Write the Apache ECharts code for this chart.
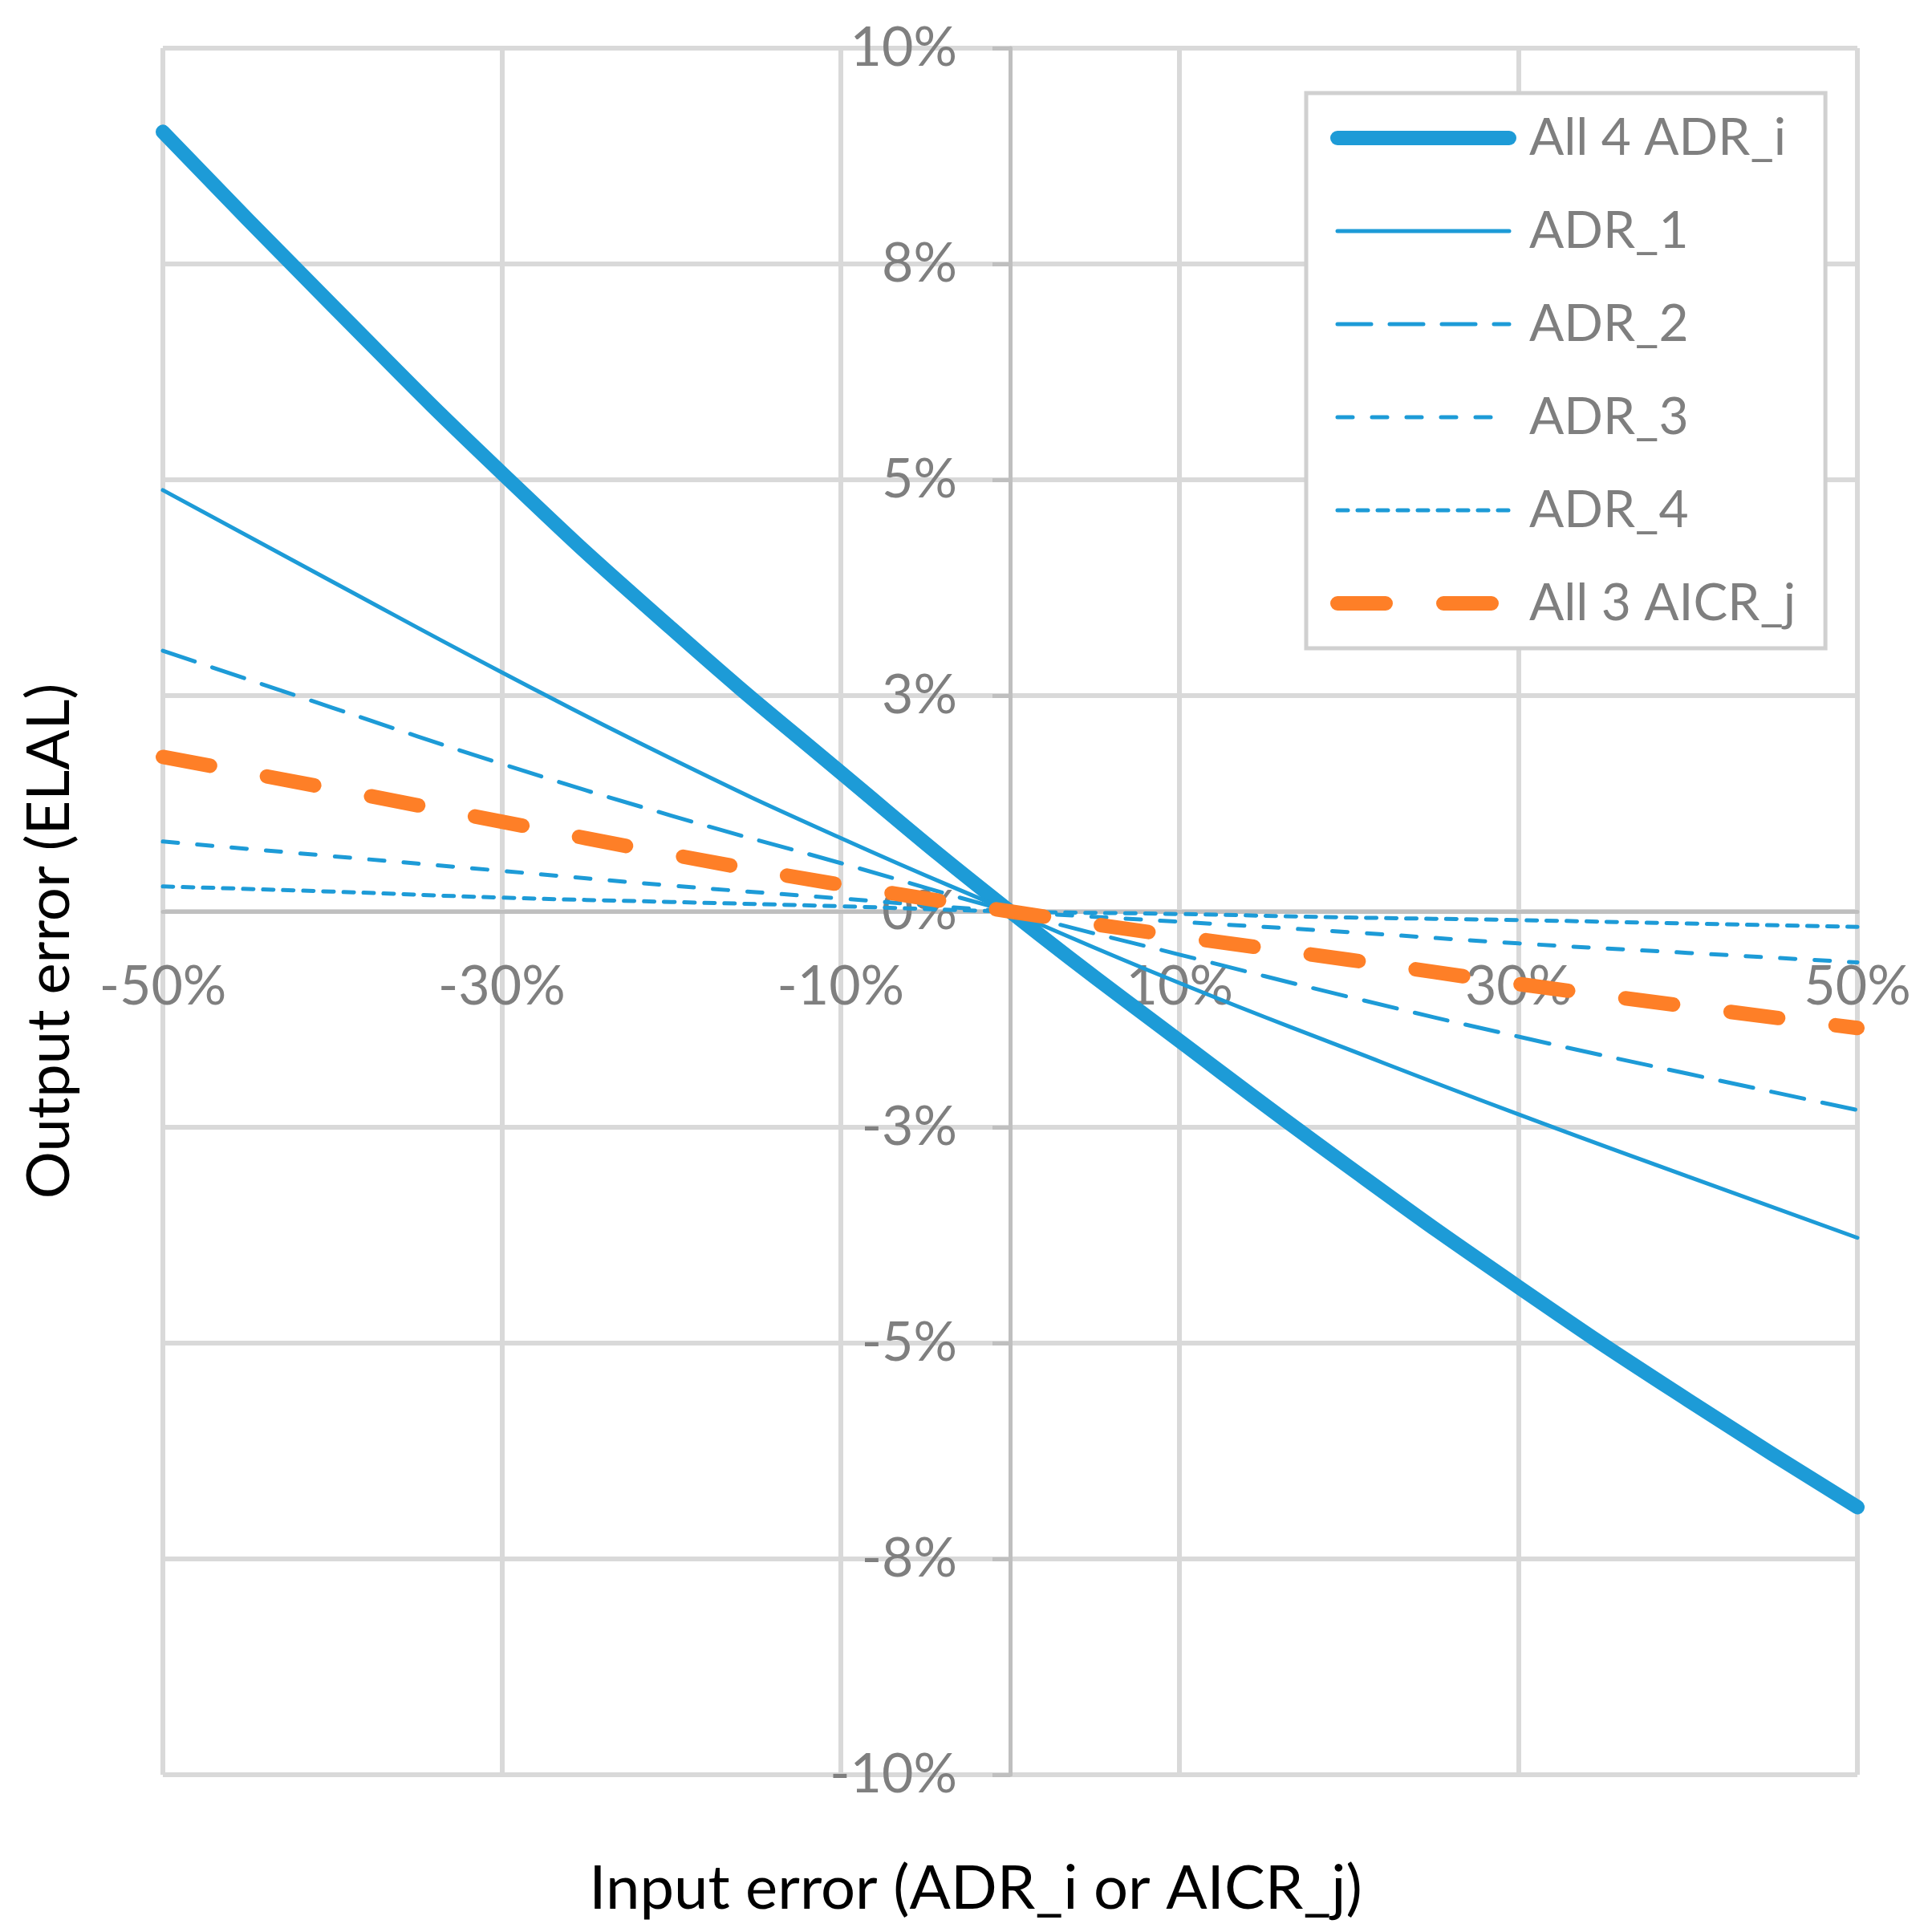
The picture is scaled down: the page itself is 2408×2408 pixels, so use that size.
<!DOCTYPE html>
<html>
	<head>
		<meta charset="utf-8" />
		<title>Output error vs input error</title>
		<script src="https://cdn.jsdelivr.net/npm/echarts@6/dist/echarts.min.js" type="text/javascript" charset="utf-8"></script>
	</head>
	<body style="margin: 0;background: #fff;">
		<div id="chart" style="width: 2408px;height: 2408px;"></div>
		<script type="text/javascript">
			// input error, in %
			var inputErr = [-50, -40, -30, -20, -10, 0, 10, 20, 30, 40, 50];
			// output error (ELAL), in %
			var all4Adr = [9.03, 7.02, 5.08, 3.28, 1.61, 0, -1.50, -2.96, -4.35, -5.66, -6.90];
			var adr1 = [4.88, 3.82, 2.77, 1.77, 0.85, 0, -0.83, -1.60, -2.35, -3.07, -3.78];
			var adr2 = [3.02, 2.36, 1.71, 1.11, 0.56, 0, -0.50, -0.99, -1.45, -1.88, -2.30];
			var adr3 = [0.81, 0.64, 0.47, 0.30, 0.15, 0, -0.12, -0.24, -0.37, -0.48, -0.59];
			var adr4 = [0.29, 0.23, 0.16, 0.11, 0.06, 0, -0.03, -0.07, -0.10, -0.14, -0.18];
			var all3Aicr = [1.79, 1.42, 1.04, 0.66, 0.31, 0, -0.29, -0.56, -0.84, -1.10, -1.35];

			var seriesNames = ['All 4 ADR_i', 'ADR_1', 'ADR_2', 'ADR_3', 'ADR_4', 'All 3 AICR_j'];
			var xTitle = 'Input error (ADR_i or AICR_j)';
			var yTitle = 'Output error (ELAL)';

			var blue = '#1d9bd7';
			var orange = '#fe7f27';
			var font = 'Lato';

			// plot box, the axes cross in its middle
			var gridLeft = 203, gridRight = 93, gridTop = 60, gridBottom = 196;
			var plotW = 2408 - gridLeft - gridRight;
			var plotH = 2408 - gridTop - gridBottom;

			function pairs(ys){
				var out = [];
				for ( var i = 0 ; i < ys.length ; i ++ ){
					out.push([inputErr[i], ys[i]]);
				}
				return out;
			}

			function line(name, ys, color, width, dash){
				return {
					name: name,
					type: 'line',
					data: pairs(ys),
					smooth: true,
					symbol: 'none',
					lineStyle: {color: color, width: width, type: dash, cap: 'round', join: 'round'},
					itemStyle: {color: color}
				};
			}

			var chart = echarts.init(document.getElementById("chart"));

			var option = {
				animation: false,
				backgroundColor: '#fff',
				grid: {left: gridLeft, right: gridRight, top: gridTop, bottom: gridBottom},
				xAxis: {
					type: 'value',
					min: -50,
					max: 50,
					interval: 20,
					position: 'bottom',
					offset: -plotH / 2,
					axisLine: {show: true, onZero: false, lineStyle: {color: '#bfbfbf', width: 5}},
					axisTick: {show: false},
					splitLine: {show: true, lineStyle: {color: '#d9d9d9', width: 6}},
					axisLabel: {
						formatter: function(v){ return v + '%'; },
						fontFamily: font, fontSize: 68, color: '#7f7f7f', margin: 60
					}
				},
				yAxis: {
					type: 'value',
					min: -10,
					max: 10,
					interval: 2.5,
					position: 'left',
					offset: -plotW / 2,
					axisLine: {show: true, onZero: false, lineStyle: {color: '#bfbfbf', width: 5}},
					axisTick: {show: true, length: 22, lineStyle: {color: '#bfbfbf', width: 5}},
					splitLine: {show: true, lineStyle: {color: '#d9d9d9', width: 6}},
					axisLabel: {
						// Excel style rounding: 2.5 -> 3, -7.5 -> -8
						formatter: function(v){
							var r = Math.round(Math.abs(v));
							return (v < 0 && r > 0 ? '-' : '') + r + '%';
						},
						fontFamily: font, fontSize: 68, color: '#7f7f7f', margin: 66
					}
				},
				legend: {
					orient: 'vertical',
					left: 1628,
					top: 116,
					padding: [24, 37, 24, 30],
					itemWidth: 214,
					itemHeight: 60,
					itemGap: 52,
					backgroundColor: '#fff',
					borderColor: '#d0d0d0',
					borderWidth: 5,
					borderRadius: 0,
					data: seriesNames,
					itemStyle: {opacity: 0},
					lineStyle: {width: 'inherit', cap: 'round'},
					textStyle: {fontFamily: font, fontSize: 64, color: '#7f7f7f', padding: [0, 0, 0, 20]}
				},
				graphic: [
					{
						type: 'text',
						x: 62, y: 1173,
						rotation: Math.PI / 2,
						style: {text: yTitle, font: '74px Lato', fill: '#000', textAlign: 'center', textVerticalAlign: 'middle'}
					},
					{
						type: 'text',
						x: 1216, y: 2354,
						style: {text: xTitle, font: '76px Lato', fill: '#000', textAlign: 'center', textVerticalAlign: 'middle'}
					}
				],
				series: [
					line(seriesNames[0], all4Adr, blue, 18, 'solid'),
					line(seriesNames[1], adr1, blue, 5, 'solid'),
					line(seriesNames[2], adr2, blue, 5, [42, 23]),
					line(seriesNames[3], adr3, blue, 5, [19, 24]),
					line(seriesNames[4], adr4, blue, 5, [13, 12]),
					line(seriesNames[5], all3Aicr, orange, 18, [60, 72])
				]
			};
			chart.setOption(option);
		</script>
	</body>
</html>
